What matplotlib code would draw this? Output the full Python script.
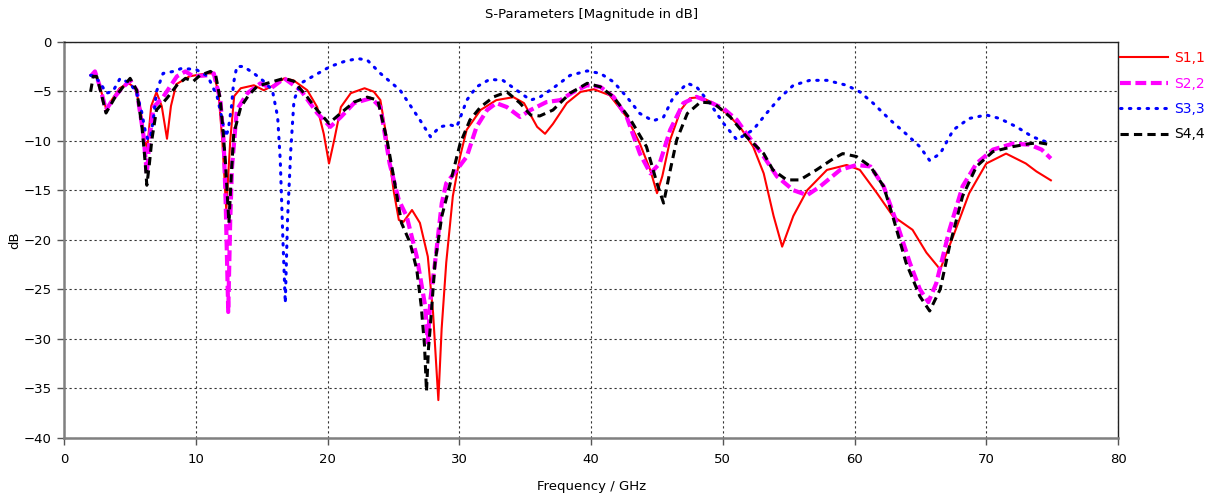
import numpy as np
import matplotlib
matplotlib.use("Agg")
import matplotlib.pyplot as plt

# S-parameter traces, (frequency GHz, magnitude dB)
s11 = [(2.0, -3.4), (2.3, -3.1), (2.7, -4.5), (3.2, -6.9), (3.6, -5.9), (4.2, -4.7),
       (4.9, -4.2), (5.4, -4.7), (5.8, -6.9), (6.1, -9.9), (6.3, -10.8), (6.6, -6.5),
       (7.0, -5.1), (7.4, -6.5), (7.8, -9.8), (8.1, -6.5), (8.5, -4.3), (9.5, -3.5),
       (10.8, -3.2), (11.3, -3.2), (11.7, -5.0), (12.0, -10.0), (12.3, -17.0),
       (12.6, -10.0), (12.9, -5.5), (13.4, -4.7), (14.4, -4.4), (15.15, -4.9),
       (15.9, -4.4), (16.7, -3.7), (17.4, -3.9), (18.45, -4.9), (19.2, -6.6),
       (19.7, -9.3), (20.1, -12.3), (20.5, -9.9), (21.0, -6.6), (21.75, -5.2),
       (22.8, -4.7), (23.5, -5.05), (24.0, -5.9), (24.5, -9.9), (25.0, -15.0),
       (25.4, -18.0), (25.75, -18.2), (26.4, -17.0), (27.0, -18.3), (27.6, -21.7),
       (28.0, -27.4), (28.4, -36.2), (28.65, -29.0), (29.0, -22.3), (29.5, -15.6),
       (30.05, -11.6), (30.55, -8.9), (31.6, -6.9), (32.8, -5.9), (34.1, -5.6),
       (34.9, -6.2), (35.9, -8.6), (36.5, -9.3), (37.1, -8.3), (38.15, -6.2),
       (39.2, -5.07), (40.2, -4.8), (41.4, -5.4), (42.7, -7.6), (43.7, -10.3),
       (44.5, -13.0), (45.0, -15.3), (45.4, -13.6), (46.0, -9.9), (46.8, -6.9),
       (47.5, -5.7), (48.3, -5.6), (49.3, -6.2), (50.3, -7.25), (51.3, -8.6),
       (52.3, -10.6), (53.1, -13.3), (53.85, -17.6), (54.5, -20.7), (55.35, -17.6),
       (56.4, -15.0), (57.9, -12.95), (59.4, -12.45), (60.4, -12.95), (61.7, -15.3),
       (62.9, -17.6), (64.4, -19.0), (65.45, -21.3), (66.5, -23.0), (67.5, -19.6),
       (68.7, -15.3), (70.0, -12.3), (71.5, -11.3), (73.0, -12.3), (73.8, -13.1),
       (74.9, -14.0)]

s22 = [(2.0, -3.5), (2.33, -3.0), (2.7, -4.5), (3.17, -6.9), (3.7, -5.8), (4.24, -4.9),
       (5.0, -3.9), (5.5, -4.9), (6.0, -9.3), (6.27, -13.3), (6.5, -9.5), (6.78, -6.6),
       (7.5, -5.6), (8.55, -3.5), (9.2, -3.0), (9.8, -3.5), (10.8, -3.4), (11.35, -3.2),
       (11.85, -5.9), (12.1, -10.0), (12.25, -16.0), (12.45, -27.3), (12.6, -18.0),
       (12.74, -12.6), (13.1, -6.9), (13.9, -5.2), (14.9, -4.2), (15.7, -4.7),
       (16.7, -3.7), (17.95, -4.9), (19.2, -7.2), (20.2, -8.6), (21.0, -7.6),
       (22.0, -6.2), (23.3, -5.7), (24.0, -6.6), (24.7, -12.3), (25.4, -16.0),
       (26.0, -17.65), (26.76, -21.7), (27.4, -26.7), (27.6, -30.4), (27.8, -26.0),
       (28.15, -22.3), (28.66, -16.3), (29.0, -14.3), (29.8, -12.95), (30.56, -11.6),
       (31.3, -8.6), (32.1, -6.9), (32.8, -6.2), (33.6, -6.6), (34.6, -7.6),
       (35.4, -6.9), (36.6, -6.1), (37.65, -5.9), (38.66, -5.07), (39.7, -4.4),
       (40.7, -4.56), (41.7, -5.57), (42.7, -7.6), (43.7, -11.3), (44.5, -13.3),
       (45.2, -12.3), (46.0, -8.9), (47.0, -6.2), (48.0, -5.57), (49.0, -6.1),
       (50.05, -6.75), (51.06, -7.9), (51.8, -9.3), (53.1, -11.6), (54.1, -13.6),
       (55.35, -15.0), (56.4, -15.5), (57.4, -14.6), (58.9, -12.95), (60.15, -12.45),
       (61.2, -12.6), (62.2, -14.6), (63.2, -18.3), (64.2, -22.35), (64.95, -25.0),
       (65.6, -26.3), (66.2, -24.4), (67.2, -19.0), (68.2, -14.6), (69.25, -12.3),
       (70.5, -10.9), (72.0, -10.3), (73.3, -10.4), (74.2, -10.9), (74.9, -11.8)]

s33 = [(2.0, -3.4), (2.3, -3.4), (2.84, -4.4), (3.2, -5.2), (3.7, -5.0), (4.24, -3.7),
       (5.0, -4.2), (5.5, -5.2), (5.88, -7.1), (6.13, -8.9), (6.35, -9.9), (6.55, -9.6),
       (6.76, -7.9), (7.0, -5.05), (7.5, -3.2), (8.28, -3.0), (8.9, -2.7), (10.0, -2.8),
       (10.9, -3.5), (11.6, -5.5), (11.95, -7.6), (12.25, -9.6), (12.45, -8.9),
       (12.7, -6.5), (12.85, -4.2), (13.1, -2.5), (13.6, -2.5), (14.4, -3.2),
       (15.15, -4.0), (15.8, -4.9), (16.2, -7.6), (16.4, -12.0), (16.6, -20.0),
       (16.78, -26.4), (16.95, -18.0), (17.2, -10.9), (17.44, -5.9), (17.95, -4.2),
       (19.0, -3.4), (20.2, -2.5), (21.25, -2.0), (22.25, -1.7), (23.0, -1.85),
       (24.0, -3.2), (25.5, -4.9), (27.0, -7.9), (27.8, -9.6), (28.5, -8.6),
       (29.3, -8.4), (29.8, -8.6), (30.56, -5.9), (31.3, -4.56), (32.3, -3.8),
       (33.3, -3.9), (34.35, -4.9), (35.4, -5.9), (36.1, -5.6), (37.1, -4.7),
       (38.4, -3.4), (39.7, -2.95), (40.7, -3.2), (41.7, -4.06), (42.7, -5.57),
       (43.7, -7.25), (44.7, -8.0), (45.5, -7.6), (46.25, -5.57), (47.3, -4.2),
       (48.0, -4.56), (49.0, -6.2), (50.05, -8.25), (51.06, -9.9), (52.3, -8.9),
       (53.3, -7.25), (54.3, -5.7), (55.35, -4.4), (56.6, -3.9), (57.9, -3.9),
       (59.4, -4.4), (60.4, -5.07), (61.4, -6.2), (62.7, -7.9), (63.9, -9.3),
       (64.95, -10.6), (65.7, -12.0), (66.5, -11.3), (67.5, -8.9), (68.7, -7.75),
       (70.0, -7.4), (71.0, -7.75), (72.3, -8.6), (73.5, -9.6), (74.5, -10.1),
       (74.9, -10.3)]

s44 = [(2.0, -5.05), (2.2, -3.5), (2.46, -3.5), (2.8, -5.2), (3.17, -7.2), (3.86, -5.6),
       (4.5, -4.5), (5.0, -3.7), (5.5, -4.9), (5.9, -8.6), (6.1, -11.5), (6.27, -14.5),
       (6.45, -12.5), (6.65, -9.9), (7.0, -6.9), (7.8, -5.7), (8.55, -4.4), (9.2, -3.7),
       (9.8, -4.0), (10.3, -3.4), (11.1, -3.0), (11.5, -3.4), (11.85, -5.9),
       (12.05, -9.0), (12.23, -12.0), (12.5, -18.3), (12.7, -13.0), (12.87, -9.3),
       (13.4, -6.6), (14.0, -5.4), (14.65, -4.5), (15.4, -4.2), (16.17, -3.9),
       (16.7, -3.7), (17.44, -4.0), (18.45, -5.6), (19.2, -6.9), (20.1, -8.25),
       (21.0, -7.2), (22.0, -6.1), (23.0, -5.6), (23.8, -5.9), (24.5, -9.9),
       (25.0, -13.6), (25.6, -18.3), (26.25, -20.3), (26.76, -23.0), (27.1, -26.7),
       (27.35, -30.7), (27.5, -35.3), (27.65, -31.0), (27.77, -29.1), (28.15, -22.3),
       (28.66, -17.65), (29.3, -14.3), (30.05, -10.3), (30.8, -7.9), (31.6, -6.6),
       (32.6, -5.57), (33.6, -5.07), (34.6, -6.2), (35.4, -7.4), (36.1, -7.5),
       (37.1, -6.9), (38.4, -5.2), (39.7, -4.2), (40.7, -4.56), (41.7, -5.57),
       (43.0, -7.9), (44.2, -10.6), (45.0, -14.3), (45.5, -16.3), (46.0, -13.0),
       (46.5, -9.9), (47.3, -7.25), (48.3, -6.1), (49.3, -6.2), (50.56, -7.6),
       (51.8, -9.6), (53.1, -11.3), (53.8, -12.95), (54.85, -13.96), (55.85, -13.96),
       (57.1, -12.95), (58.4, -11.8), (59.1, -11.3), (60.15, -11.6), (61.2, -12.6),
       (62.2, -14.6), (62.9, -17.65), (63.9, -22.3), (64.95, -25.7), (65.7, -27.2),
       (66.5, -25.0), (67.2, -20.7), (68.2, -15.6), (69.25, -12.6), (70.5, -11.1),
       (72.0, -10.6), (73.3, -10.3), (74.0, -10.2), (74.9, -10.4)]

labels = ["S1,1", "S2,2", "S3,3", "S4,4"]
colors = ["#ff0000", "#ff00ff", "#0000ff", "#000000"]

plt.rcParams['font.family'] = ['DejaVu Sans']

fig = plt.figure(figsize=(12.1, 4.99), dpi=100, facecolor='white')
ax = fig.add_axes([0.0531, 0.1228, 0.8709, 0.7936])

styles = [
    dict(lw=1.5, ls='-'),
    dict(lw=3.0, ls=(0, (2.6, 1.1))),
    dict(lw=2.2, ls=(0, (0.5, 2.4)), dash_capstyle='round'),
    dict(lw=2.2, ls=(0, (2.7, 1.7))),
]
for data, lab, col, st in zip([s11, s22, s33, s44], labels, colors, styles):
    arr = np.array(data)
    ax.plot(arr[:, 0], arr[:, 1], color=col, label=lab, **st)

ax.set_xlim(0, 80)
ax.set_ylim(-40, 0)
ax.set_xticks(np.arange(0, 81, 10))
ax.set_yticks(np.arange(-40, 1, 5))
ax.grid(True, color='#333333', linestyle=(0, (2, 2.5)), linewidth=0.8)
ax.tick_params(labelsize=9.5, length=5, width=1, color='#555555')
ax.tick_params(axis='x', pad=6)
ax.tick_params(axis='y', pad=4)

for side in ['left', 'bottom']:
    ax.spines[side].set_color('#808080')
    ax.spines[side].set_linewidth(1.8)
for side in ['top', 'right']:
    ax.spines[side].set_color('#222222')
    ax.spines[side].set_linewidth(1.0)

ax.set_title("S-Parameters [Magnitude in dB]", fontsize=9.5, pad=17)
ax.set_xlabel("Frequency / GHz", fontsize=9.5, labelpad=10)
ax.set_ylabel("dB", fontsize=9.5, labelpad=2)

leg = ax.legend(loc='upper left', bbox_to_anchor=(0.997, 0.99), frameon=False,
                fontsize=10, handlelength=3.4, labelspacing=0.82, borderaxespad=0.0,
                handletextpad=0.5)
for txt, col in zip(leg.get_texts(), colors):
    txt.set_color(col)

fig.savefig("out.png", dpi=100, facecolor='white')
